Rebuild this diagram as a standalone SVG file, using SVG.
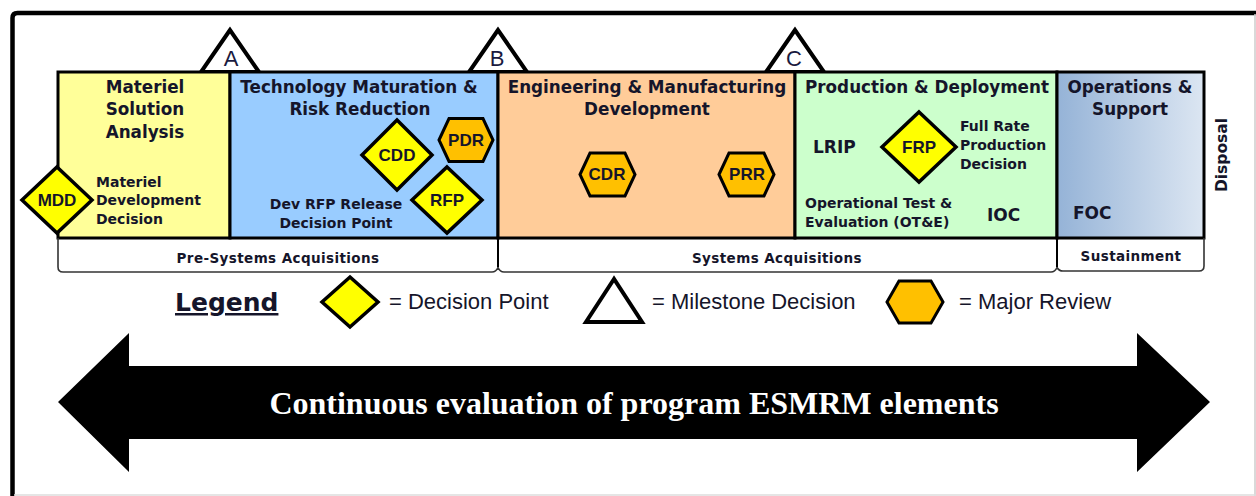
<svg xmlns="http://www.w3.org/2000/svg" width="1256" height="496" viewBox="0 0 1256 496">
<defs>
<style>
.t{font-family:"DejaVu Sans","Liberation Sans",sans-serif;font-weight:bold;fill:#15152a}
.h{font-size:16.8px;text-anchor:middle}
.s{font-size:14px}
.c{text-anchor:middle}
.br{font-size:13.5px;text-anchor:middle;letter-spacing:0.4px}
.k{font-family:"Liberation Sans",Arial,sans-serif;font-weight:bold;font-size:17px;fill:#15152a;text-anchor:middle}
.lg{font-family:"Liberation Sans",Arial,sans-serif;font-size:22px;fill:#15152a}
.phase{stroke:#000;stroke-width:3}
.dia{fill:#FFFF00;stroke:#000;stroke-width:3.5;stroke-linejoin:miter}
.hex{fill:#FFC000;stroke:#000;stroke-width:3}
.tri{fill:#fff;stroke:#000;stroke-width:4;stroke-linejoin:miter}
.ml{font-family:"Liberation Sans",Arial,sans-serif;font-size:22px;fill:#1a1a40;text-anchor:middle}
.brk{fill:none;stroke:#333;stroke-width:1.6}
</style>
<linearGradient id="os" x1="0" y1="0" x2="1" y2="0">
<stop offset="0" stop-color="#95B3D7"/>
<stop offset="1" stop-color="#DCE6F2"/>
</linearGradient>
</defs>
<rect x="0" y="0" width="1256" height="496" fill="#fff"/>
<g id="frame">
<path d="M12.5 496 V18 Q12.5 13 17.5 13 H1256" fill="none" stroke="#000" stroke-width="4.5"/>
<line x1="1255" y1="14" x2="1255" y2="496" stroke="#ccc" stroke-width="1.5"/>
<line x1="14" y1="495" x2="1256" y2="495" stroke="#ddd" stroke-width="1.5"/>
</g>
<g id="milestones">
<g id="ms-A"><path class="tri" d="M230 30 L201 72 L259 72 Z"/><text class="ml" x="231" y="66">A</text></g>
<g id="ms-B"><path class="tri" d="M498 30 L469 72 L527 72 Z"/><text class="ml" x="497" y="66">B</text></g>
<g id="ms-C"><path class="tri" d="M795 30 L766 72 L824 72 Z"/><text class="ml" x="794" y="66">C</text></g>
</g>
<g id="phases">
<g id="msa"><rect class="phase" x="58" y="72" width="172" height="166" fill="#FFFF99"/>
<text class="t h" x="145" y="93">Materiel</text><text class="t h" x="145" y="115">Solution</text><text class="t h" x="145" y="138">Analysis</text>
<text class="t s" x="96" y="187">Materiel</text><text class="t s" x="96" y="205">Development</text><text class="t s" x="96" y="224">Decision</text></g>
<g id="tmrr"><rect class="phase" x="230" y="72" width="268" height="166" fill="#99CCFF"/>
<text class="t h" x="359" y="93">Technology Maturation &amp;</text><text class="t h" x="360" y="115">Risk Reduction</text>
<text class="t s c" x="336" y="209">Dev RFP Release</text><text class="t s c" x="336" y="228">Decision Point</text></g>
<g id="emd"><rect class="phase" x="498" y="72" width="297" height="166" fill="#FFCC99"/>
<text class="t h" x="647" y="93">Engineering &amp; Manufacturing</text><text class="t h" x="647" y="115">Development</text></g>
<g id="pd"><rect class="phase" x="795" y="72" width="262" height="166" fill="#CCFFCC"/>
<text class="t h" x="927" y="93">Production &amp; Deployment</text>
<text class="t" x="813" y="153" font-size="17">LRIP</text>
<text class="t s" x="960" y="131">Full Rate</text><text class="t s" x="960" y="150">Production</text><text class="t s" x="960" y="169">Decision</text>
<text class="t s" x="805" y="208">Operational Test &amp;</text><text class="t s" x="805" y="227">Evaluation (OT&amp;E)</text>
<text class="t" x="987" y="221" font-size="17">IOC</text></g>
<g id="os-phase"><rect class="phase" x="1057" y="72" width="147" height="166" fill="url(#os)"/>
<text class="t h" x="1130" y="93">Operations &amp;</text><text class="t h" x="1130" y="115">Support</text>
<text class="t" x="1073" y="219" font-size="17">FOC</text></g>
<text id="disposal" class="t c" font-size="15.5" transform="translate(1227 155) rotate(-90)">Disposal</text>
</g>
<g id="reviews">
<g id="mdd"><path class="dia" d="M57 167 L92 200 L57 233 L22 200 Z"/><text class="k" x="57" y="206">MDD</text></g>
<g id="cdd"><path class="dia" d="M397 120 L432 155 L397 190 L362 155 Z"/><text class="k" x="397" y="161">CDD</text></g>
<g id="rfp"><path class="dia" d="M447 167 L482 200 L447 233 L412 200 Z"/><text class="k" x="447" y="206">RFP</text></g>
<g id="frp"><path class="dia" d="M919 112 L956 147 L919 182 L882 147 Z"/><text class="k" x="919" y="153">FRP</text></g>
<g id="pdr"><path class="hex" d="M439 140 L449 118.5 L483 118.5 L493 140 L483 161.5 L449 161.5 Z"/><text class="k" x="466" y="146">PDR</text></g>
<g id="cdr"><path class="hex" d="M580 174.5 L590 153 L625 153 L635 174.5 L625 196 L590 196 Z"/><text class="k" x="607" y="180">CDR</text></g>
<g id="prr"><path class="hex" d="M719 174.5 L729 153 L764 153 L774 174.5 L764 196 L729 196 Z"/><text class="k" x="747" y="180">PRR</text></g>
</g>
<g id="brackets">
<path class="brk" d="M58 238 V267 Q58 272 63 272 H492 Q496 272 498 267.5 Q500 272 504 272 H1051 Q1055 272 1057 267.5 Q1059 271 1063 271 H1199 Q1204 271 1204 266 V238"/>
<line x1="498" y1="238" x2="498" y2="267" stroke="#000" stroke-width="2"/>
<line x1="1057" y1="238" x2="1057" y2="267" stroke="#000" stroke-width="2"/>
<text class="t br" x="278" y="263">Pre-Systems Acquisitions</text>
<text class="t br" x="777" y="263">Systems Acquisitions</text>
<text class="t br" x="1131" y="261">Sustainment</text>
</g>
<g id="legend">
<text class="t" x="175" y="311" font-size="25" text-decoration="underline">Legend</text>
<path class="dia" d="M350 277 L378 302 L350 327 L322 302 Z"/>
<text class="lg" x="389" y="309">= Decision Point</text>
<path class="tri" d="M614 279 L586 322 L642 322 Z"/>
<text class="lg" x="652" y="309">= Milestone Decision</text>
<path class="hex" d="M887 302 L899 281 L931 281 L943 302 L931 323 L899 323 Z"/>
<text class="lg" x="959" y="309">= Major Review</text>
</g>
<g id="arrow">
<path d="M58 402 L129 333 V366 H1137 V333 L1210 402 L1137 472 V439 H129 V472 Z" fill="#000"/>
<text x="634" y="414" font-family="'Liberation Serif','Times New Roman',serif" font-weight="bold" font-size="32" fill="#fff" text-anchor="middle">Continuous evaluation of program ESMRM elements</text>
</g>
</svg>
